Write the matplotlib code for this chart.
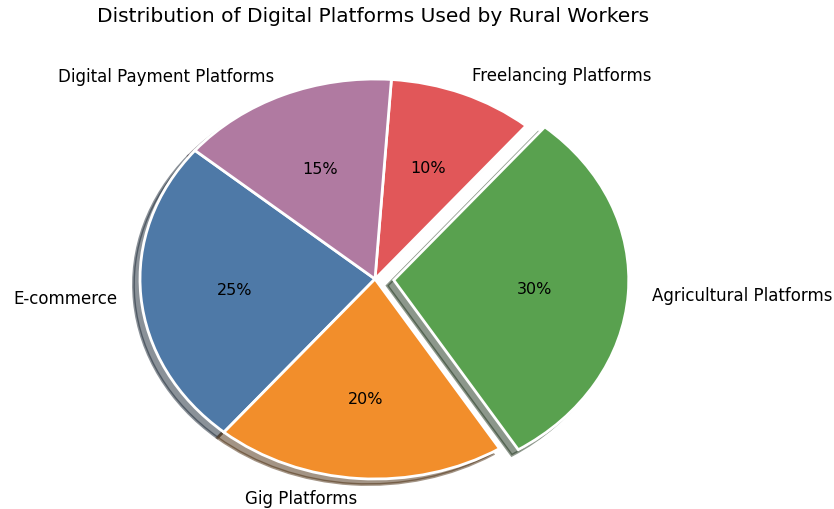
import matplotlib
matplotlib.use("Agg")
import matplotlib.pyplot as plt

categories = ["E-commerce", "Gig Platforms", "Agricultural Platforms",
              "Freelancing Platforms", "Digital Payment Platforms"]
shares = [25, 20, 30, 10, 15]
explode = [0, 0, 0.08, 0, 0]
colors = ["#4e79a7", "#f28e2b", "#59a14f", "#e15759", "#b07aa1"]
title = "Distribution of Digital Platforms Used by Rural Workers"

W, H = 834, 510
fig = plt.figure(figsize=(W / 100, H / 100), dpi=100)
ax = fig.add_axes([0, 0, 1, 1])

wedges, texts, autotexts = ax.pie(
    shares, labels=categories, explode=explode, colors=colors,
    autopct="%1.0f%%", startangle=140, shadow=True,
    wedgeprops=dict(edgecolor="white", linewidth=2),
    textprops=dict(fontsize=12),
)
for t in autotexts:
    t.set_fontsize(11.5)

ax.set_aspect("auto")
cx, cy = 375, 280
sx, sy = 235, 200
ax.set_xlim(-cx / sx, (W - cx) / sx)
ax.set_ylim(-(H - cy) / sy, cy / sy)
ax.axis("off")

fig.text(373.5 / W, 1 - 17 / H, title, ha="center", va="center", fontsize=14.5)

fig.savefig("out.png", dpi=100)
